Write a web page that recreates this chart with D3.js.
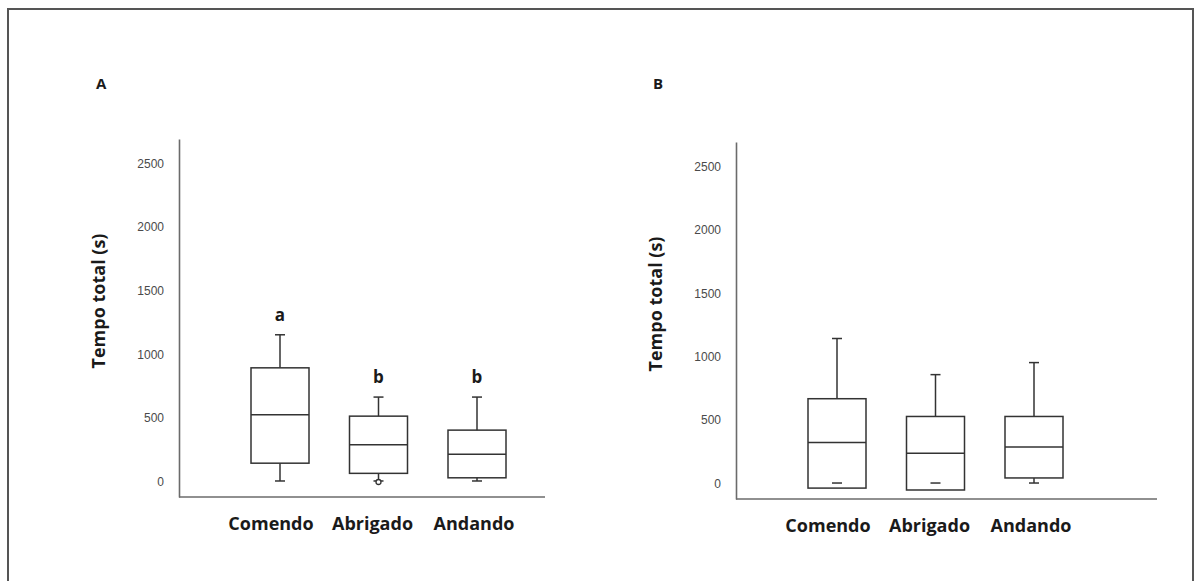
<!DOCTYPE html>
<html lang="pt">

<head>
    <meta charset="UTF-8">
    <title>Tempo total</title>
    <script src="https://cdn.jsdelivr.net/npm/d3@7"></script>

    <style>
        body { margin: 0; background: #fff; }

        .axis path { stroke: #6b6b6b; stroke-width: 1.6px; }

        .axis text {
            font-family: "Liberation Sans Narrow", "Liberation Sans", Arial, sans-serif;
            font-size: 12px;
            fill: #4a4a4a;
        }

        .box rect, .box line { stroke: #333; stroke-width: 1.5px; fill: none; }

        .lbl {
            font-family: "Open Sans", sans-serif;
            font-weight: bold;
            fill: #1a1a1a;
        }
    </style>

</head>

<body>

    <svg width="1194" height="581"></svg>

    <script>

        var categories = ["Comendo", "Abrigado", "Andando"];
        var yTicks = [0, 500, 1000, 1500, 2000, 2500];

        // painel A
        var minA = [0, 0, 0],
            q1A = [140, 60, 25],
            medA = [520, 285, 210],
            q3A = [890, 510, 400],
            maxA = [1150, 660, 660],
            outA = [[], [0], []],
            lettersA = ["a", "b", "b"];

        // painel B
        var minB = [0, 0, 0],
            q1B = [-40, -55, 40],
            medB = [320, 235, 285],
            q3B = [665, 525, 525],
            maxB = [1140, 855, 950],
            outB = [[], [], []],
            lettersB = ["", "", ""];

        var svg = d3.select("svg");

        // moldura
        svg.append("path")
            .attr("d", "M8,581 L8,9 L1193,9 L1193,581")
            .attr("fill", "none")
            .attr("stroke", "#555")
            .attr("stroke-width", 2);

        function panel(opt) {
            var g = svg.append("g");

            var y = d3.scaleLinear()
                .domain([-126, 2690])
                .range([opt.bottom, opt.top]);

            var x = d3.scalePoint()
                .domain(categories)
                .range([opt.left + 101, opt.left + 298]);

            g.append("g")
                .attr("class", "axis")
                .attr("transform", "translate(" + opt.left + ",0)")
                .call(d3.axisLeft(y).tickValues(yTicks).tickFormat(d3.format("d"))
                    .tickSize(0).tickPadding(15))
                .call(function (a) { a.selectAll(".tick text").attr("dy", "0.35em"); });

            g.append("line")
                .attr("x1", opt.left).attr("x2", opt.right)
                .attr("y1", opt.bottom).attr("y2", opt.bottom)
                .attr("stroke", "#6b6b6b").attr("stroke-width", 1.6);

            var bw = 58, cap = 5;

            categories.forEach(function (c, i) {
                var cx = x(c);
                var b = g.append("g").attr("class", "box");

                b.append("line")
                    .attr("x1", cx).attr("x2", cx)
                    .attr("y1", y(opt.max[i])).attr("y2", y(opt.q3[i]));
                b.append("line")
                    .attr("x1", cx - cap).attr("x2", cx + cap)
                    .attr("y1", y(opt.max[i])).attr("y2", y(opt.max[i]));

                if (opt.min[i] < opt.q1[i]) {
                    b.append("line")
                        .attr("x1", cx).attr("x2", cx)
                        .attr("y1", y(opt.q1[i])).attr("y2", y(opt.min[i]));
                }
                b.append("line")
                    .attr("x1", cx - cap).attr("x2", cx + cap)
                    .attr("y1", y(opt.min[i])).attr("y2", y(opt.min[i]));

                b.append("rect")
                    .attr("x", cx - bw / 2)
                    .attr("width", bw)
                    .attr("y", y(opt.q3[i]))
                    .attr("height", y(opt.q1[i]) - y(opt.q3[i]));

                b.append("line")
                    .attr("x1", cx - bw / 2).attr("x2", cx + bw / 2)
                    .attr("y1", y(opt.med[i])).attr("y2", y(opt.med[i]));

                opt.out[i].forEach(function (v) {
                    b.append("circle")
                        .attr("cx", cx).attr("cy", y(v) + 1)
                        .attr("r", 2.5)
                        .attr("fill", "#fff").attr("stroke", "#333").attr("stroke-width", 1.3);
                });

                if (opt.letters[i]) {
                    g.append("text")
                        .attr("class", "lbl")
                        .attr("x", cx)
                        .attr("y", y(opt.max[i]) - 14)
                        .attr("text-anchor", "middle")
                        .style("font-size", "17px")
                        .text(opt.letters[i]);
                }

                g.append("text")
                    .attr("class", "lbl")
                    .attr("x", cx - 9 + i * 3)
                    .attr("y", opt.bottom + 33)
                    .attr("text-anchor", "middle")
                    .style("font-size", "18px")
                    .text(c);
            });

            g.append("text")
                .attr("class", "lbl")
                .attr("transform", "translate(" + (opt.left - 74) + "," + opt.titleY + ") rotate(-90)")
                .attr("text-anchor", "middle")
                .style("font-size", "18px")
                .text("Tempo total (s)");

            g.append("text")
                .attr("class", "lbl")
                .attr("x", opt.left - 83)
                .attr("y", 89)
                .style("font-size", "15px")
                .text(opt.name);
        }

        panel({ name: "A", left: 179, right: 545, top: 139, bottom: 497, titleY: 301,
            min: minA, q1: q1A, med: medA, q3: q3A, max: maxA, out: outA, letters: lettersA });

        panel({ name: "B", left: 736, right: 1157, top: 142, bottom: 499, titleY: 304,
            min: minB, q1: q1B, med: medB, q3: q3B, max: maxB, out: outB, letters: lettersB });

    </script>

</body>

</html>
